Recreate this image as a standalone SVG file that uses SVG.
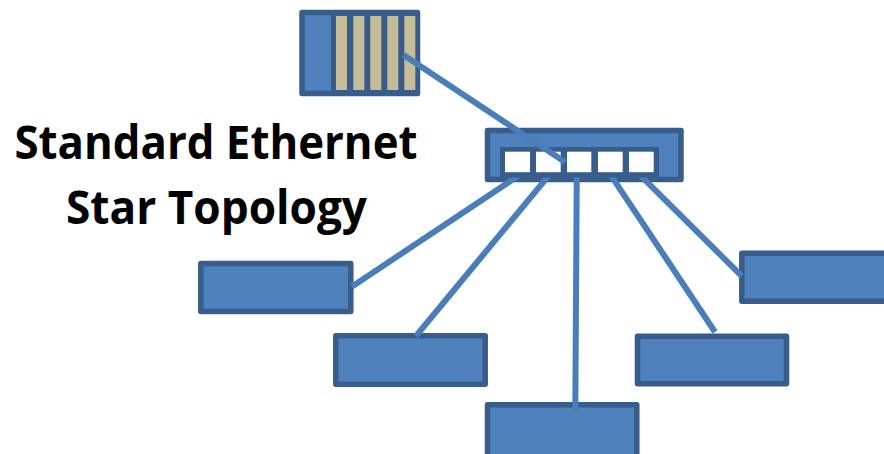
<svg xmlns="http://www.w3.org/2000/svg" width="884" height="454" viewBox="0 0 884 454">
<style>
.box{fill:#4f81bd;stroke:#385d8a;stroke-width:5.500;stroke-linejoin:round}
.slot{fill:#c4bd97}
.port{fill:#fff}
.dark{fill:#385d8a}
.link{stroke:#4a7ebb;stroke-width:6;fill:none}
.title{font-family:"Open Sans","Liberation Sans",sans-serif;font-weight:700;font-size:46px;fill:#000}
</style>
<defs><clipPath id="below"><rect x="0" y="177.5" width="884" height="277"/></clipPath></defs>
<rect width="884" height="454" fill="#fff"/>
<g id="server">
<rect class="box" x="302" y="12.5" width="115.500" height="81"/>
<rect class="dark" x="331" y="14" width="86" height="78"/>
<rect class="slot" x="336" y="16" width="11" height="74"/>
<rect class="slot" x="353.300" y="16" width="11" height="74"/>
<rect class="slot" x="370.300" y="16" width="11" height="74"/>
<rect class="slot" x="387.300" y="16" width="11" height="74"/>
<rect class="slot" x="404.300" y="16" width="11" height="74"/>
</g>
<g id="switch">
<rect class="box" x="487.500" y="130.500" width="193.500" height="49"/>
<rect class="dark" x="500" y="147" width="159" height="32"/>
<rect class="port" x="505" y="151.700" width="25" height="20.500"/>
<rect class="port" x="536" y="151.700" width="24.700" height="20.500"/>
<rect class="port" x="567" y="151.700" width="24.300" height="20.500"/>
<rect class="port" x="598" y="151.700" width="24.700" height="20.500"/>
<rect class="port" x="629" y="151.700" width="24.700" height="20.500"/>
</g>
<g id="host-1"><rect class="box" x="200.800" y="263.500" width="150" height="48"/></g>
<g id="host-2"><rect class="box" x="335.800" y="335.800" width="149.400" height="48.400"/></g>
<g id="host-3"><rect class="box" x="487.500" y="404.800" width="149.300" height="60"/></g>
<g id="host-4"><rect class="box" x="637.500" y="336.200" width="149" height="47.600"/></g>
<g id="host-5"><rect class="box" x="741.800" y="253.200" width="160" height="48"/></g>
<g id="connectors">
<line class="link" x1="403.500" y1="55" x2="565" y2="162"/>
<g clip-path="url(#below)">
<line class="link" x1="521" y1="174" x2="351.700" y2="286.700"/>
<line class="link" x1="550" y1="174" x2="416" y2="336"/>
<line class="link" x1="576.800" y1="170" x2="575.300" y2="410.700"/>
<line class="link" x1="610" y1="174" x2="715" y2="332"/>
<line class="link" x1="639" y1="174" x2="741.700" y2="276"/>
</g>
</g>
<g id="title">
<text class="title" x="14.500" y="159" textLength="403" lengthAdjust="spacingAndGlyphs">Standard Ethernet</text>
<text class="title" x="66" y="224" textLength="301" lengthAdjust="spacingAndGlyphs">Star Topology</text>
</g>
</svg>
